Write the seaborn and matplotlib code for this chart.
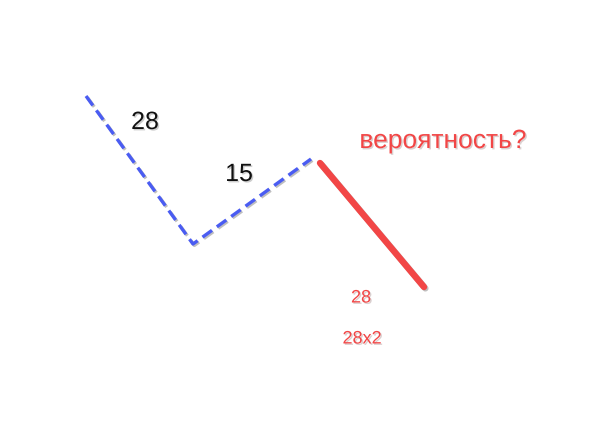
import pandas as pd
import matplotlib
matplotlib.use("Agg")
import matplotlib.pyplot as plt
import matplotlib.patheffects as pe
import seaborn as sns

# === Wave points (picture space, y goes down) ===
blue_x = [86, 193, 311]
blue_y = [97, 245, 160]
red_x = [320, 424]
red_y = [164, 288]

# labels
black_labels = ["28", "15"]
black_x = [145, 239]
black_y = [123, 175]
red_labels = ["вероятность?", "28", "28x2"]
red_lx = [443, 361, 362]
red_ly = [142, 299, 340]
red_sizes = [19, 13, 13]

blue_df = pd.DataFrame({"x": blue_x, "y": blue_y})
red_df = pd.DataFrame({"x": red_x, "y": red_y})

sns.set_style("white")
plt.rcParams["font.family"] = ["Liberation Sans", "DejaVu Sans"]

fig = plt.figure(figsize=(6, 4.27), dpi=100)
ax = fig.add_axes([0, 0, 1, 1])

line_shadow = [pe.SimpleLineShadow(offset=(1, -1), alpha=0.25), pe.Normal()]
text_shadow = [pe.withSimplePatchShadow(offset=(1, -1), alpha=0.2)]

sns.lineplot(data=blue_df, x="x", y="y", sort=False, ax=ax, color="#4a5cf2",
             linewidth=2.4, linestyle=(0, (3.5, 1.8)),
             path_effects=line_shadow)
sns.lineplot(data=red_df, x="x", y="y", sort=False, ax=ax, color="#f24646",
             linewidth=4.6, solid_capstyle="round", path_effects=line_shadow)

for t, x, y in zip(black_labels, black_x, black_y):
    ax.text(x, y, t, fontsize=18, color="#111111", ha="center", va="center",
            path_effects=text_shadow)
for t, x, y, s in zip(red_labels, red_lx, red_ly, red_sizes):
    ax.text(x, y, t, fontsize=s, color="#f24646", ha="center", va="center",
            path_effects=text_shadow)

ax.set_xlim(0, 600)
ax.set_ylim(427, 0)
ax.axis("off")

fig.savefig("out.png", dpi=100)
